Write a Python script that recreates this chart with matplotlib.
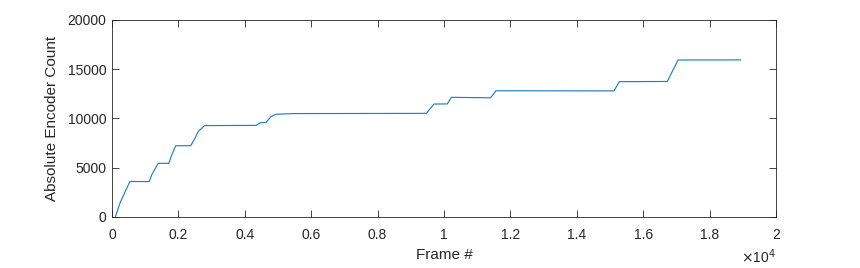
import matplotlib
matplotlib.use("Agg")
import matplotlib.pyplot as plt

# breakpoints
frames = [100, 250, 400, 540, 1120, 1200, 1390, 1710, 1800, 1920, 2370, 2500,
          2600, 2790, 4340, 4470, 4640, 4790, 4940, 5440, 9470, 9700, 10100,
          10220, 11400, 11570, 15120, 15280, 16730, 16850, 17050, 18930]
counts = [0, 1500, 2600, 3600, 3600, 4300, 5450, 5450, 6300, 7240, 7240, 8000,
          8700, 9280, 9300, 9570, 9600, 10200, 10430, 10500, 10520, 11470, 11480,
          12150, 12100, 12820, 12800, 13740, 13760, 14600, 15940, 15950]

xticks = [0, 2000, 4000, 6000, 8000, 10000, 12000, 14000, 16000, 18000, 20000]
xticklabels = ["0", "0.2", "0.4", "0.6", "0.8", "1", "1.2", "1.4", "1.6", "1.8", "2"]
yticks = [0, 5000, 10000, 15000, 20000]

plt.rcParams["font.family"] = ["Liberation Sans", "DejaVu Sans"]
axcol = "#262626"

fig = plt.figure(figsize=(8.6, 2.68), dpi=100)
ax = fig.add_axes([112 / 860, 51 / 268, 664 / 860, 197 / 268])
ax.plot(frames, counts, color="#1f80c8", lw=0.85)

ax.set_xlim(0, 20000)
ax.set_ylim(0, 20000)
ax.set_xticks(xticks)
ax.set_xticklabels(xticklabels)
ax.set_yticks(yticks)
ax.tick_params(direction="in", length=5, width=0.6, colors=axcol, labelsize=10,
               top=True, right=True, pad=4)
ax.tick_params(axis="x", pad=8)
for s in ax.spines.values():
    s.set_color(axcol)
    s.set_linewidth(0.6)

ax.set_xlabel("Frame #", fontsize=11, color=axcol, labelpad=4)
ax.set_ylabel("Absolute Encoder Count", fontsize=11, color=axcol, labelpad=6)
fig.text(776 / 860, 5 / 268, r"$\times$10$^4$", ha="right", va="baseline",
         fontsize=10, color=axcol)

fig.savefig("out.png", dpi=100)
